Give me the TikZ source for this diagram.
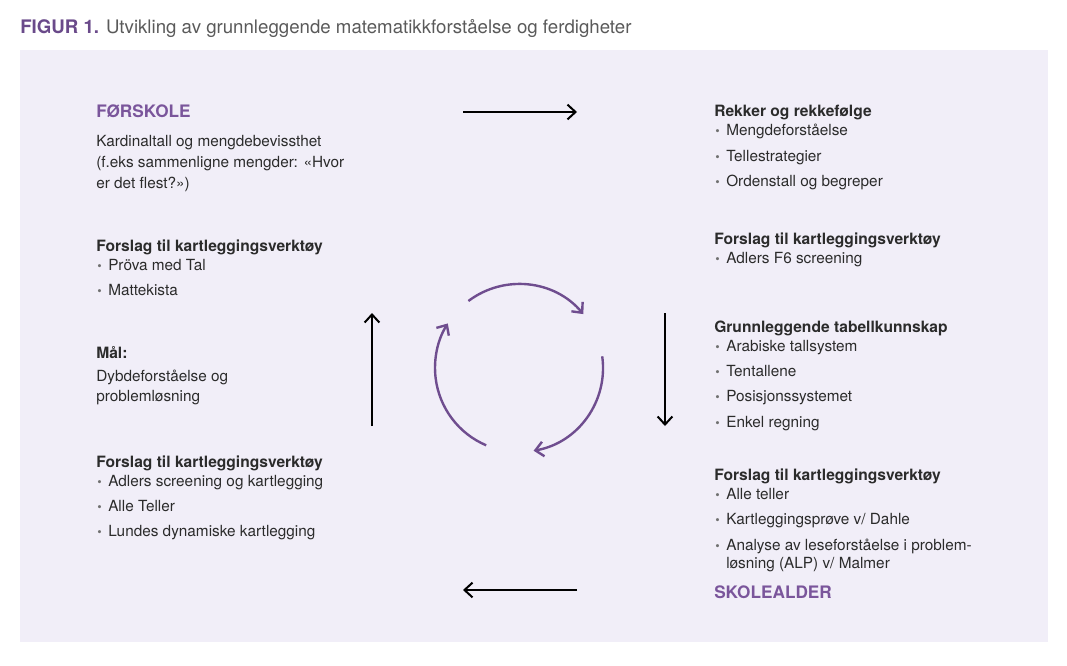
\documentclass[tikz,border=0pt]{standalone}
\usepackage{fontspec}
\setmainfont{TeX Gyre Heros}
\usetikzlibrary{arrows.meta}
\definecolor{panel}{HTML}{F1EEF8}
\definecolor{purp}{HTML}{7A559B}
\definecolor{titlepurp}{HTML}{6A4A8A}
\definecolor{arcpurp}{HTML}{6F4D8F}
\definecolor{txt}{HTML}{2B2B2B}
\definecolor{titlegray}{HTML}{5A5A5A}
\definecolor{bulgray}{HTML}{707070}
\newcommand{\mybullet}{\makebox[9pt][l]{\hspace*{0.8pt}\textcolor{bulgray}{\fontsize{9.5}{9.5}\selectfont•}}}
\begin{document}
\begin{tikzpicture}[x=0.75pt,y=-0.75pt,
  body/.style={anchor=base west,inner sep=0pt,text=txt,font=\fontsize{11.5}{13}\selectfont},
  head/.style={anchor=base west,inner sep=0pt,text=txt,font=\fontsize{11.7}{13}\selectfont\bfseries},
  stage/.style={anchor=base west,inner sep=0pt,text=purp,font=\fontsize{12.9}{14}\selectfont\bfseries},
  flow/.style={line width=1.5pt,-{Straight Barb[length=6pt,width=11pt,line width=1.5pt]}},
  cyc/.style={draw=arcpurp,line width=1.8pt,-{Straight Barb[length=6pt,width=11pt,line width=1.8pt]}}
]
\useasboundingbox (0,0) rectangle (1067,665);
\fill[panel] (20,50) rectangle (1048,642);

% title
\node[anchor=base west,inner sep=0pt,font=\fontsize{14}{16}\selectfont] (title) at (20,33)
  {\textcolor{titlepurp}{\bfseries FIGUR 1.} \textcolor{titlegray}{Utvikling av grunnleggende matematikkforståelse og ferdigheter}};

% left column
\node[stage] (forskole) at (96,117) {FØRSKOLE};
\node[body] (l1) at (96,146) {Kardinaltall og mengdebevissthet};
\node[body] (l2) at (96,167) {(f.eks sammenligne mengder: «Hvor};
\node[body] (l3) at (96,188) {er det flest?»)};
\node[head] (lh1) at (96,251) {Forslag til kartleggingsverktøy};
\node[body] (lb1) at (96,270) {\mybullet Pröva med Tal};
\node[body] (lb2) at (96,295) {\mybullet Mattekista};
\node[head] (mal) at (96,358) {Mål:};
\node[body] (m1) at (96,381) {Dybdeforståelse og};
\node[body] (m2) at (96,401) {problemløsning};
\node[head] (lh2) at (96,467) {Forslag til kartleggingsverktøy};
\node[body] (lb3) at (96,486) {\mybullet Adlers screening og kartlegging};
\node[body] (lb4) at (96,511) {\mybullet Alle Teller};
\node[body] (lb5) at (96,536) {\mybullet Lundes dynamiske kartlegging};

% right column
\node[head] (rh1) at (714,116) {Rekker og rekkefølge};
\node[body] (rb1) at (714,135) {\mybullet Mengdeforståelse};
\node[body] (rb2) at (714,161) {\mybullet Tellestrategier};
\node[body] (rb3) at (714,186) {\mybullet Ordenstall og begreper};
\node[head] (rh2) at (714,244) {Forslag til kartleggingsverktøy};
\node[body] (rb4) at (714,263) {\mybullet Adlers F6 screening};
\node[head] (rh3) at (714,332) {Grunnleggende tabellkunnskap};
\node[body] (rb5) at (714,351) {\mybullet Arabiske tallsystem};
\node[body] (rb6) at (714,376) {\mybullet Tentallene};
\node[body] (rb7) at (714,401) {\mybullet Posisjonssystemet};
\node[body] (rb8) at (714,427) {\mybullet Enkel regning};
\node[head] (rh4) at (714,480) {Forslag til kartleggingsverktøy};
\node[body] (rb9) at (714,499) {\mybullet Alle teller};
\node[body] (rb10) at (714,524) {\mybullet Kartleggingsprøve v/ Dahle};
\node[body] (rb11) at (714,550) {\mybullet Analyse av leseforståelse i problem-};
\node[body] (rb12) at (714,568) {\hspace*{9pt}løsning (ALP) v/ Malmer};
\node[stage] (skole) at (714,598) {SKOLEALDER};

% flow arrows
\coordinate (t1) at (463,112); \coordinate (t2) at (577,112);
\coordinate (r1) at (665,313); \coordinate (r2) at (665,426);
\coordinate (b1) at (577,590); \coordinate (b2) at (463,590);
\coordinate (lf1) at (372,426); \coordinate (lf2) at (372,313);
\draw[flow] (t1) -- (t2);
\draw[flow] (r1) -- (r2);
\draw[flow] (b1) -- (b2);
\draw[flow] (lf1) -- (lf2);

% cycle
\coordinate (ctr) at (519,368);
\coordinate (a1) at (468.4,301);
\coordinate (a2) at (602.2,356.3);
\coordinate (a3) at (486.2,445.3);
\draw[cyc] (a1) arc[start angle=-127,end angle=-40,radius=84];
\draw[cyc] (a2) arc[start angle=-8,end angle=80,radius=84];
\draw[cyc] (a3) arc[start angle=113,end angle=212,radius=84];
\end{tikzpicture}
\end{document}
